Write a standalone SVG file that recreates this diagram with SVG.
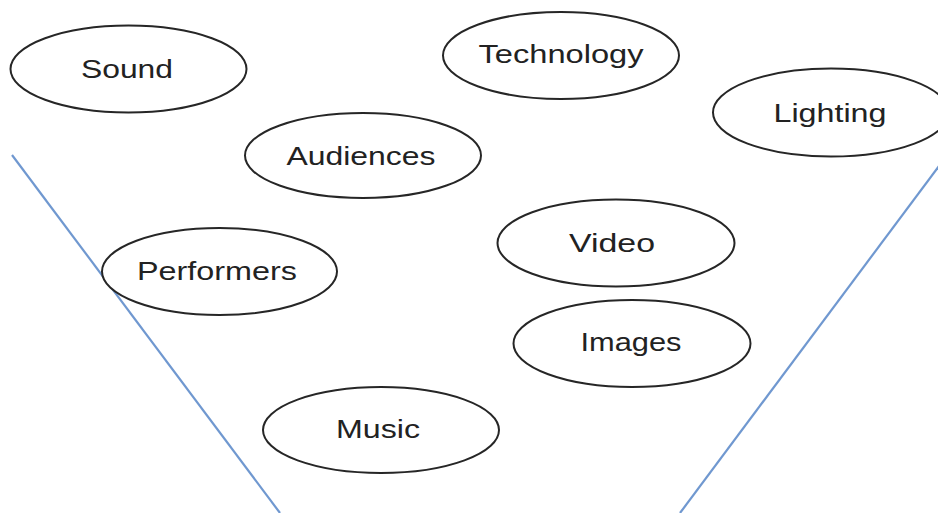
<svg xmlns="http://www.w3.org/2000/svg" width="938" height="513" viewBox="0 0 938 513">
  <style>
    .node ellipse { fill: #ffffff; stroke: #262626; stroke-width: 2; }
    .node text { font-family: "Liberation Sans", Arial, sans-serif; font-size: 25px; fill: #222222; text-anchor: middle; }
    .edge { stroke: #7098d0; stroke-width: 2.2; fill: none; }
  </style>
  <rect width="938" height="513" fill="#ffffff"/>

  <!-- funnel sides -->
  <g id="connectors">
    <line class="edge" x1="12" y1="155" x2="280" y2="513"/>
    <line class="edge" x1="939" y1="166" x2="680" y2="513"/>
  </g>

  <g id="sound" class="node">
    <ellipse cx="128.5" cy="69" rx="118" ry="43.5"/>
    <text x="127" y="78" textLength="92" lengthAdjust="spacingAndGlyphs">Sound</text>
  </g>
  <g id="technology" class="node">
    <ellipse cx="561" cy="55.5" rx="118" ry="43.5"/>
    <text x="561" y="63" textLength="165" lengthAdjust="spacingAndGlyphs">Technology</text>
  </g>
  <g id="lighting" class="node">
    <ellipse cx="831" cy="112.5" rx="118" ry="44"/>
    <text x="830" y="122" textLength="113" lengthAdjust="spacingAndGlyphs">Lighting</text>
  </g>
  <g id="audiences" class="node">
    <ellipse cx="363" cy="155.5" rx="118" ry="42.5"/>
    <text x="361" y="165" textLength="149" lengthAdjust="spacingAndGlyphs">Audiences</text>
  </g>
  <g id="video" class="node">
    <ellipse cx="616" cy="243" rx="118.5" ry="43.5"/>
    <text x="612" y="252" textLength="86" lengthAdjust="spacingAndGlyphs">Video</text>
  </g>
  <g id="performers" class="node">
    <ellipse cx="219.5" cy="271.5" rx="117.5" ry="43.5"/>
    <text x="217" y="280" textLength="160" lengthAdjust="spacingAndGlyphs">Performers</text>
  </g>
  <g id="images" class="node">
    <ellipse cx="632" cy="343.5" rx="118.5" ry="43.5"/>
    <text x="631" y="351" textLength="101" lengthAdjust="spacingAndGlyphs">Images</text>
  </g>
  <g id="music" class="node">
    <ellipse cx="381" cy="430" rx="118" ry="43"/>
    <text x="378" y="438" textLength="84" lengthAdjust="spacingAndGlyphs">Music</text>
  </g>
</svg>
